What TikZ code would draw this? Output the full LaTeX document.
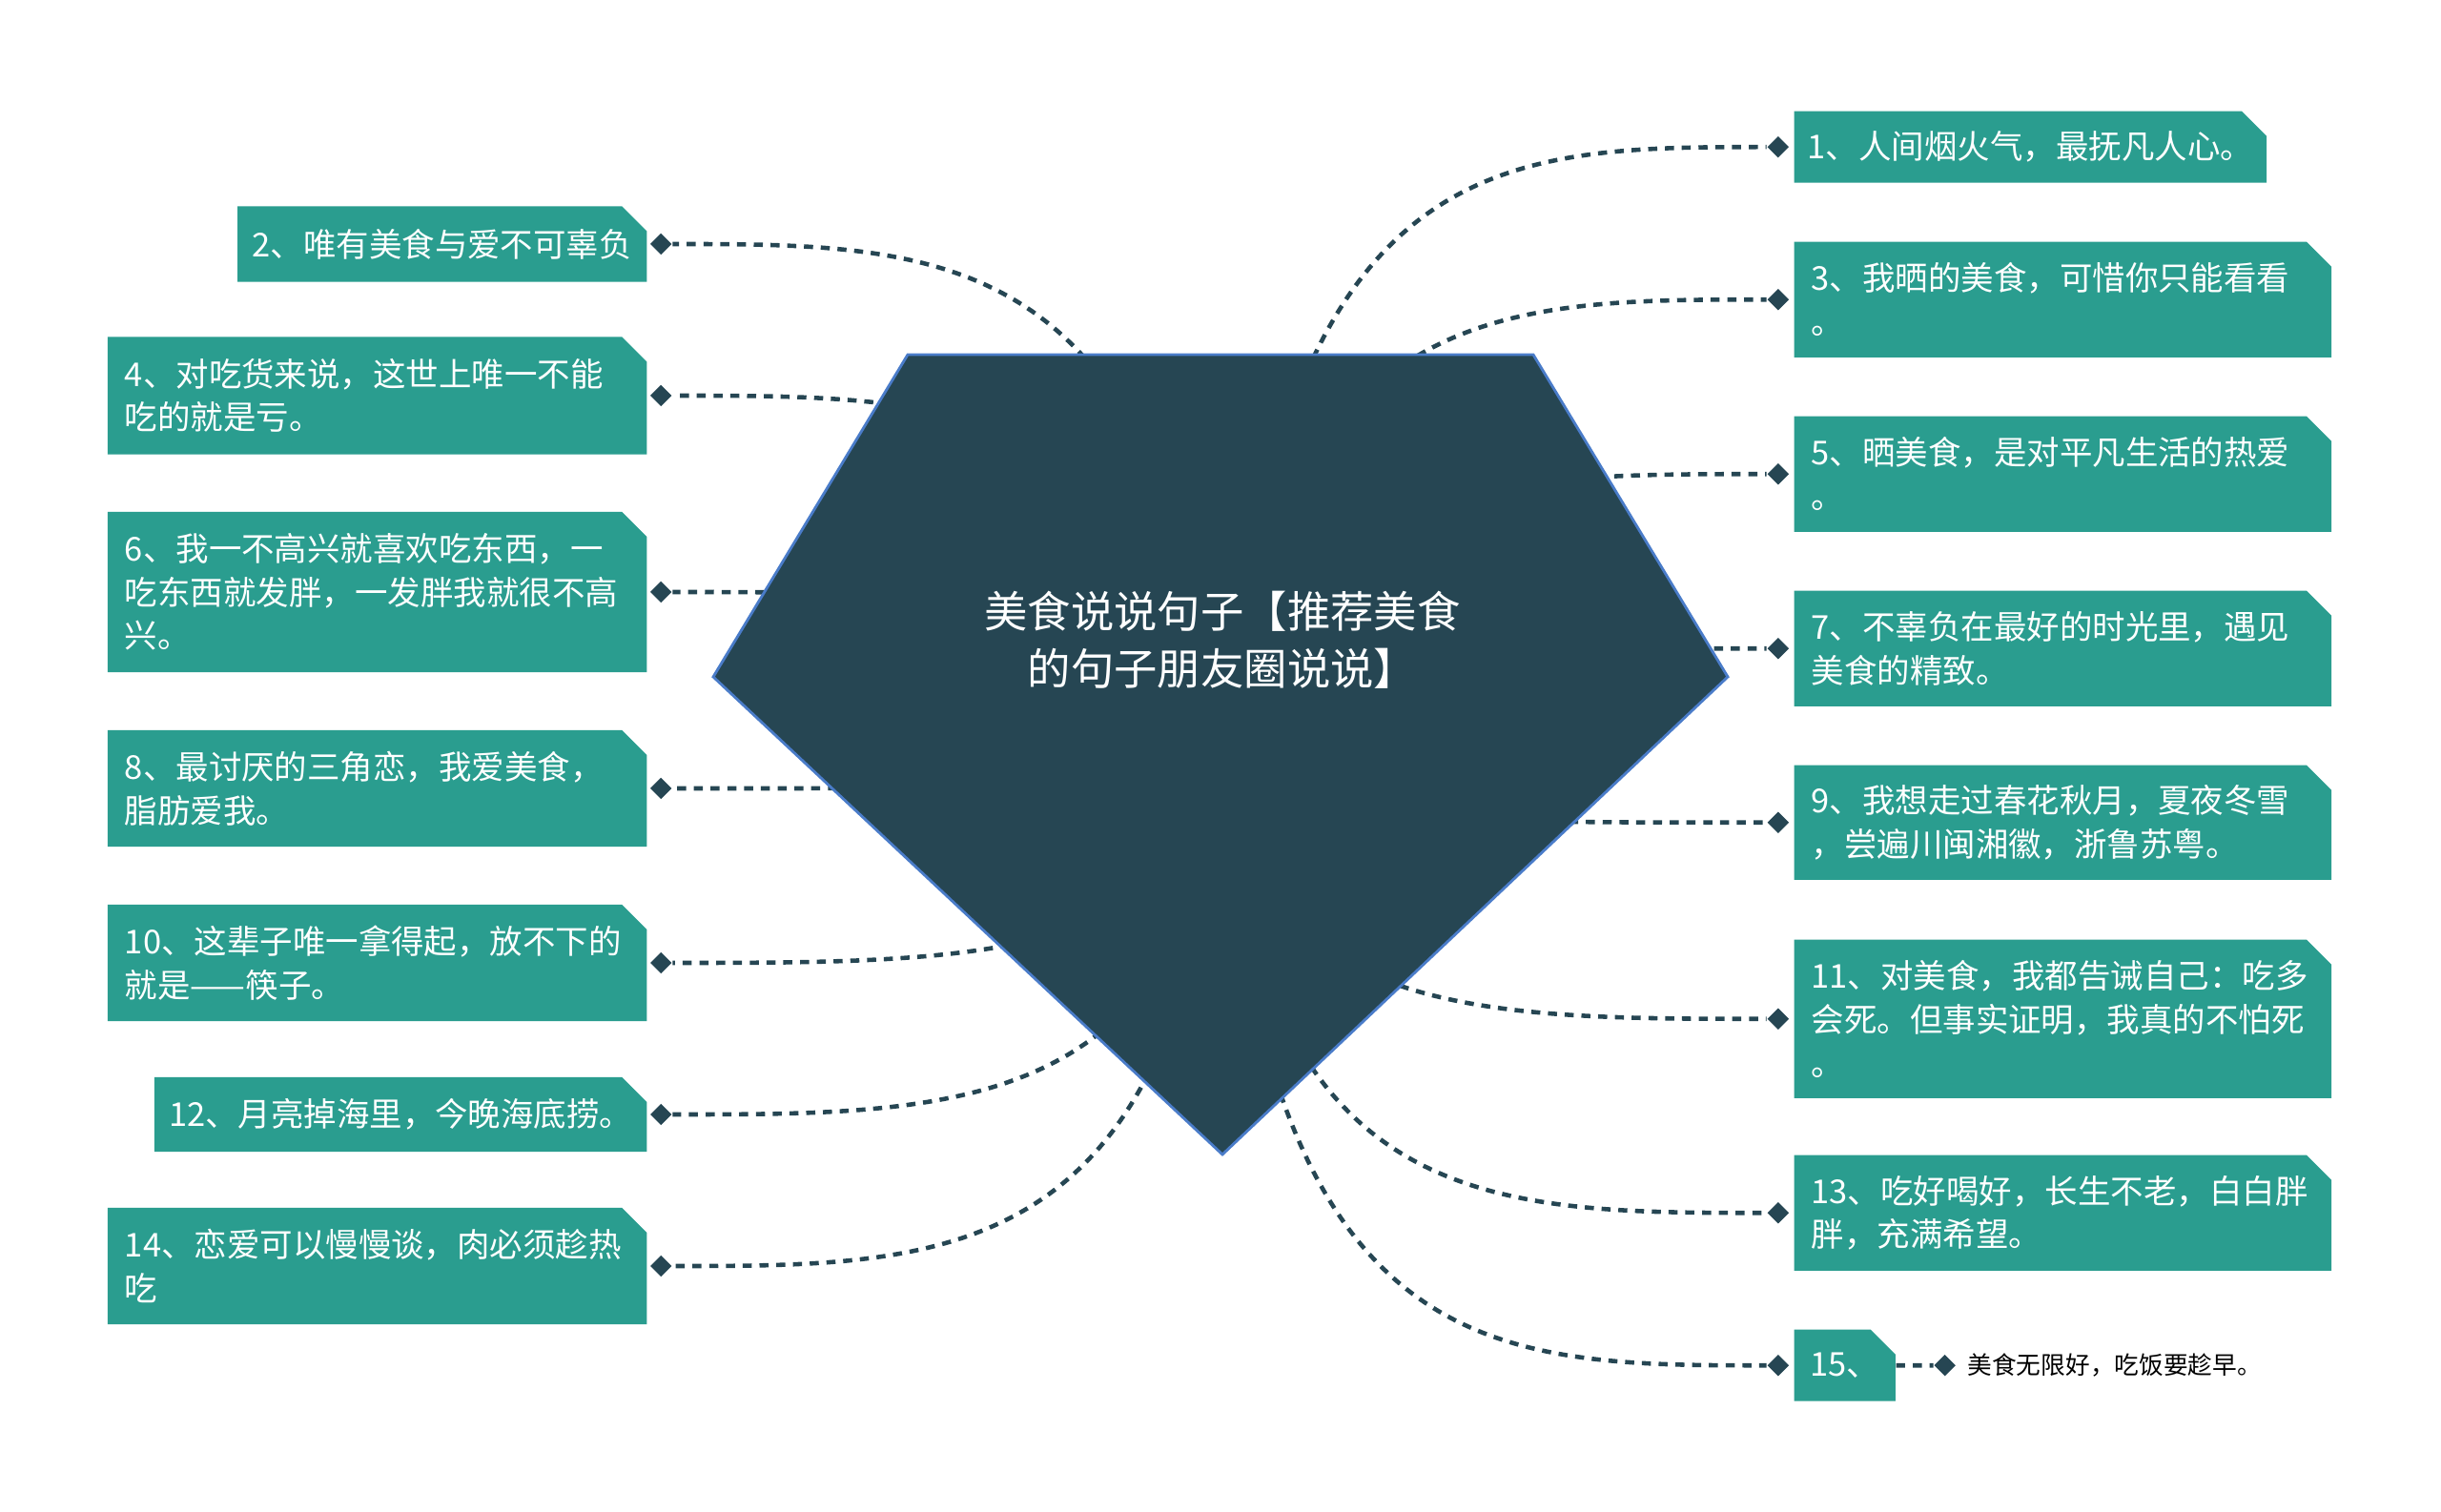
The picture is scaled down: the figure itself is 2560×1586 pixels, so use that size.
\documentclass[tikz,border=0pt]{standalone}
\usepackage{fontspec}
\setmainfont{Noto Sans CJK SC}
\usetikzlibrary{shapes.misc,shapes.geometric,positioning,calc}
\definecolor{darkslate}{HTML}{264653}
\definecolor{boxteal}{HTML}{2A9D8F}
\definecolor{edgeblue}{HTML}{4A7CC9}
\tikzset{
	leaf/.style={chamfered rectangle, chamfered rectangle corners=north east,
		chamfered rectangle xsep=0.13cm, chamfered rectangle ysep=0.13cm,
		fill=boxteal, text=white, font=\fontsize{9.8}{13}\selectfont,
		align=left, inner xsep=0.05cm, inner ysep=0pt},
	oneline/.style={inner xsep=0pt, align=center},
	dot/.style={diamond, fill=darkslate, inner sep=0pt, minimum size=0.23cm},
	link/.style={darkslate, line width=1.3pt, dash pattern=on 2.7pt off 2.3pt},
}
\begin{document}
\begin{tikzpicture}[x=0.01cm, y=-0.01cm]
	\useasboundingbox (0,0) rectangle (2560,1586);
	% right side
	\node[leaf, oneline, anchor=north west, text width=4.69cm, minimum height=0.75cm] (b1) at (1881,116) {1、人间烟火气，最抚凡人心。};
	\node[leaf, anchor=north west, text width=5.27cm, minimum height=1.21cm] (b3) at (1881,253) {3、我晒的美食，可惜你只能看看\\。};
	\node[leaf, anchor=north west, text width=5.27cm, minimum height=1.21cm] (b5) at (1881,436) {5、晒美食，是对平凡生活的热爱\\。};
	\node[leaf, anchor=north west, text width=5.27cm, minimum height=1.21cm] (b7) at (1881,619) {7、不辜负在最好的时光里，遇见\\美食的精致。};
	\node[leaf, anchor=north west, text width=5.27cm, minimum height=1.20cm] (b9) at (1881,802) {9、我想走过春花秋月，夏夜冬雪\\，尝遍川闽湘徽，浙鲁苏粤。};
	\node[leaf, anchor=north west, text width=5.27cm, minimum height=1.66cm] (b11) at (1881,985) {11、对美食，我都告诫自己：吃多\\会死。但事实证明，我真的不怕死\\。};
	\node[leaf, anchor=north west, text width=5.27cm, minimum height=1.21cm] (b13) at (1881,1211) {13、吃好喝好，长生不老，白白胖\\胖，充满希望。};
	\node[leaf, oneline, anchor=north west, text width=0.80cm, minimum height=0.75cm] (b15) at (1881,1394) {15、};
	% left side
	\node[leaf, oneline, anchor=east, text width=4.03cm, minimum height=0.79cm] (b2) at (679,256) {2、唯有美食与爱不可辜负};
	\node[leaf, anchor=east, text width=5.29cm, minimum height=1.23cm] (b4) at (679,415) {4、对吃货来说，这世上唯一不能\\吃的就是亏。};
	\node[leaf, anchor=east, text width=5.29cm, minimum height=1.68cm] (b6) at (679,621) {6、我一不高兴就喜欢吃东西，一\\吃东西就发胖，一发胖我就很不高\\兴。};
	\node[leaf, anchor=east, text width=5.29cm, minimum height=1.22cm] (b8) at (679,827) {8、最讨厌的三角恋，我爱美食，\\脂肪爱我。};
	\node[leaf, anchor=east, text width=5.29cm, minimum height=1.22cm] (b10) at (679,1010) {10、这辈子唯一拿得起，放不下的\\就是——筷子。};
	\node[leaf, oneline, anchor=east, text width=4.90cm, minimum height=0.78cm] (b12) at (679,1169) {12、月亮掉海里，今晚海底捞。};
	\node[leaf, anchor=east, text width=5.29cm, minimum height=1.22cm] (b14) at (679,1328) {14、恋爱可以慢慢谈，肉必须趁热\\吃};
	% diamonds
	\node[dot, left=0.04cm of b1] (d1) {};
	\node[dot, left=0.04cm of b3] (d3) {};
	\node[dot, left=0.04cm of b5] (d5) {};
	\node[dot, left=0.04cm of b7] (d7) {};
	\node[dot, left=0.04cm of b9] (d9) {};
	\node[dot, left=0.04cm of b11] (d11) {};
	\node[dot, left=0.04cm of b13] (d13) {};
	\node[dot, left=0.04cm of b15] (d15) {};
	\node[dot, right=0.02cm of b2] (d2) {};
	\node[dot, right=0.02cm of b4] (d4) {};
	\node[dot, right=0.02cm of b6] (d6) {};
	\node[dot, right=0.02cm of b8] (d8) {};
	\node[dot, right=0.02cm of b10] (d10) {};
	\node[dot, right=0.02cm of b12] (d12) {};
	\node[dot, right=0.02cm of b14] (d14) {};
	\node[dot, right=0.39cm of b15] (e15) {};
	\node[right=0.11cm of e15, inner sep=0pt, font=\fontsize{7.3}{9}\selectfont] (t15) {美食无限好，吃饭要趁早。};
	\draw[link] (b15) -- (e15);
	% curved links, hidden behind the pentagon
	\coordinate (hub) at (1282,820);
	\foreach \d in {d1,d3,d5,d7,d9,d11,d13,d15}
		\draw[link] (hub) .. controls ($(hub |- \d.west)!.09!(\d.west)$) and ($(hub |- \d.west)!.5!(\d.west)$) .. (\d.west);
	\foreach \d in {d2,d4,d6,d8,d10,d12,d14}
		\draw[link] (hub) .. controls ($(hub |- \d.east)!.09!(\d.east)$) and ($(hub |- \d.east)!.5!(\d.east)$) .. (\d.east);
	\filldraw[fill=darkslate, draw=edgeblue, line width=0.8pt] (952,372) -- (1608,372) -- (1812,710) -- (1282,1211) -- (748,710) -- cycle;
	\node[text=white, align=center, font=\fontsize{12.9}{17}\selectfont] (title) at (1282,671) {美食说说句子【推荐美食\\的句子朋友圈说说】};
\end{tikzpicture}
\end{document}
